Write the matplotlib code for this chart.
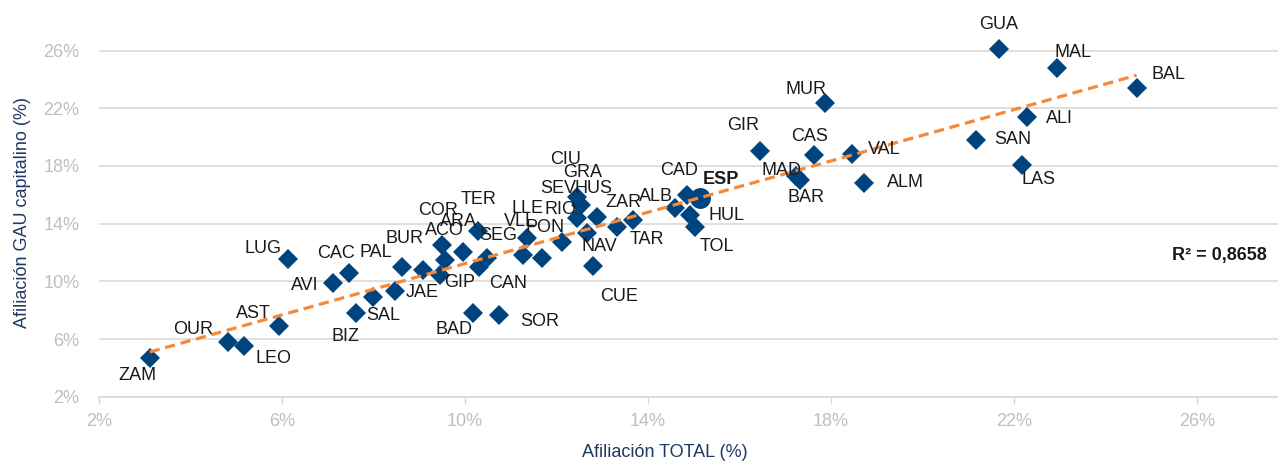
import numpy as np
import matplotlib
matplotlib.use("Agg")
import matplotlib.pyplot as plt

plt.rcParams['font.family'] = ['Liberation Sans', 'DejaVu Sans']

# provincias: afiliación total (%) vs afiliación GAU capitalino (%)
names = ["GUA", "MAL", "BAL", "ALI", "SAN", "LAS", "MUR", "GIR", "CAS", "VAL",
         "MAD", "BAR", "ALM", "CAD", "ALB", "HUL", "TOL", "ZAR", "TAR", "CIU",
         "GRA", "SEV", "HUS", "NAV", "CUE", "LLE", "VLL", "PON", "RIO", "SOR",
         "BAD", "TER", "ARA", "COR", "ACO", "SEG", "CAN", "GIP", "PAL", "BUR",
         "JAE", "SAL", "BIZ", "CAC", "AVI", "LUG", "AST", "OUR", "LEO", "ZAM"]
af_total = [21.67, 22.93, 24.68, 22.29, 21.17, 22.17, 17.87, 16.45, 17.63, 18.45,
            17.23, 17.32, 18.73, 14.85, 14.59, 14.92, 15.03, 13.68, 13.32, 12.45,
            12.54, 12.45, 12.88, 12.66, 12.80, 11.35, 11.27, 11.68, 12.11, 10.75,
            10.17, 10.29, 9.95, 9.56, 9.49, 10.47, 10.31, 9.45, 9.09, 8.62,
            8.47, 7.98, 7.62, 7.47, 7.11, 6.14, 5.94, 4.83, 5.17, 3.11]
af_gau = [26.09, 24.82, 23.39, 21.38, 19.80, 18.07, 22.39, 19.04, 18.76, 18.81,
          17.31, 17.03, 16.84, 15.99, 15.07, 14.60, 13.79, 14.25, 13.75, 15.85,
          15.29, 14.39, 14.44, 13.33, 11.06, 12.98, 11.83, 11.60, 12.75, 7.67,
          7.78, 13.49, 12.01, 11.48, 12.52, 11.60, 10.97, 10.44, 10.79, 11.02,
          9.33, 8.93, 7.78, 10.56, 9.86, 11.53, 6.90, 5.81, 5.54, 4.66]
esp_total, esp_gau = 15.14, 15.76
r2_text = "R² = 0,8658"

# label offsets in pixels (dx right, dy down)
label_off = {
    "GUA": (0, -25), "MAL": (16, -15), "BAL": (32, -14), "ALI": (32, 1),
    "SAN": (37, -1), "LAS": (17, 15), "MUR": (-19, -13), "GIR": (-17, -25),
    "CAS": (-5, -19), "VAL": (33, -5), "MAD": (-14, -5), "BAR": (6, 18),
    "ALM": (41, 0), "CAD": (-8, -24), "ALB": (-19, -12), "HUL": (36, 0),
    "TOL": (22, 20), "ZAR": (-10, -18), "TAR": (30, 12), "CIU": (-12, -37),
    "GRA": (1, -33), "SEV": (-19, -30), "HUS": (-3, -29), "NAV": (13, 13),
    "CUE": (26, 30), "LLE": (1, -30), "VLL": (-3, -33), "PON": (3, -31),
    "RIO": (-1, -32), "SOR": (40, 7), "BAD": (-19, 16), "TER": (0, -32),
    "ARA": (-4, -31), "COR": (-7, -49), "ACO": (3, -14), "SEG": (12, -23),
    "CAN": (29, 16), "GIP": (20, 8), "PAL": (-48, -17), "BUR": (3, -28),
    "JAE": (27, 2), "SAL": (11, 19), "BIZ": (-11, 23), "CAC": (-13, -20),
    "AVI": (-28, 2), "LUG": (-25, -11), "AST": (-26, -13), "OUR": (-35, -12),
    "LEO": (29, 13), "ZAM": (-12, 17),
}

navy = "#00447F"
W, H = 1278, 461
fig = plt.figure(figsize=(W / 100, H / 100), dpi=100)
ax = fig.add_axes([99 / W, (H - 396.7) / H, (W - 99) / W, 396.7 / H])

ax.set_xlim(2, 27.77)
ax.set_ylim(2, 29.51)
ticks = [2, 6, 10, 14, 18, 22, 26]
ax.set_xticks(ticks)
ax.set_yticks(ticks)
ax.set_xticklabels([f"{t}%" for t in ticks])
ax.set_yticklabels([f"{t}%" for t in ticks])
ax.tick_params(axis='x', colors="#d9d9d9", labelcolor="#bfbfbf", labelsize=13,
               length=5, width=1, pad=7)
ax.tick_params(axis='y', length=0, labelcolor="#bfbfbf", labelsize=13, pad=14)
for s in ["top", "right", "left"]:
    ax.spines[s].set_visible(False)
ax.spines["bottom"].set_color("#d9d9d9")
ax.spines["bottom"].set_linewidth(1.2)
ax.grid(axis='y', color="#d9d9d9", linewidth=1.2)
ax.set_axisbelow(True)

ax.plot(af_total, af_gau, linestyle='none', marker='D', ms=10, mew=0,
        color=navy, zorder=3)
ax.plot([esp_total], [esp_gau], linestyle='none', marker='o', ms=15, mew=0,
        color=navy, zorder=3)

# linear trend
k, b = np.polyfit(af_total, af_gau, 1)
xs = np.array([min(af_total), max(af_total)])
ax.plot(xs, k * xs + b, color="#F5893A", lw=2.3, dashes=(3.2, 1.8), zorder=4)

for n, x, y in zip(names, af_total, af_gau):
    dx, dy = label_off[n]
    ax.annotate(n, (x, y), xytext=(dx * 0.72, -dy * 0.72), textcoords='offset points',
                ha='center', va='center', fontsize=13, color="#1a1a1a", zorder=5)
ax.annotate("ESP", (esp_total, esp_gau), xytext=(21 * 0.72, 19 * 0.72),
            textcoords='offset points', ha='center', va='center', fontsize=13,
            fontweight='bold', color="#1a1a1a", zorder=5)

fig.text(1267 / W, 1 - 255 / H, r2_text, ha='right', va='center', fontsize=13,
         fontweight='bold', color="#1a1a1a")
fig.text(665 / W, 1 - 452 / H, "Afiliación TOTAL (%)", ha='center', va='center',
         fontsize=13, color="#1F3864")
fig.text(23 / W, 1 - 213 / H, "Afiliación GAU capitalino (%)", ha='center',
         va='center', rotation=90, fontsize=13, color="#1F3864")

fig.savefig("out.png", dpi=100)
